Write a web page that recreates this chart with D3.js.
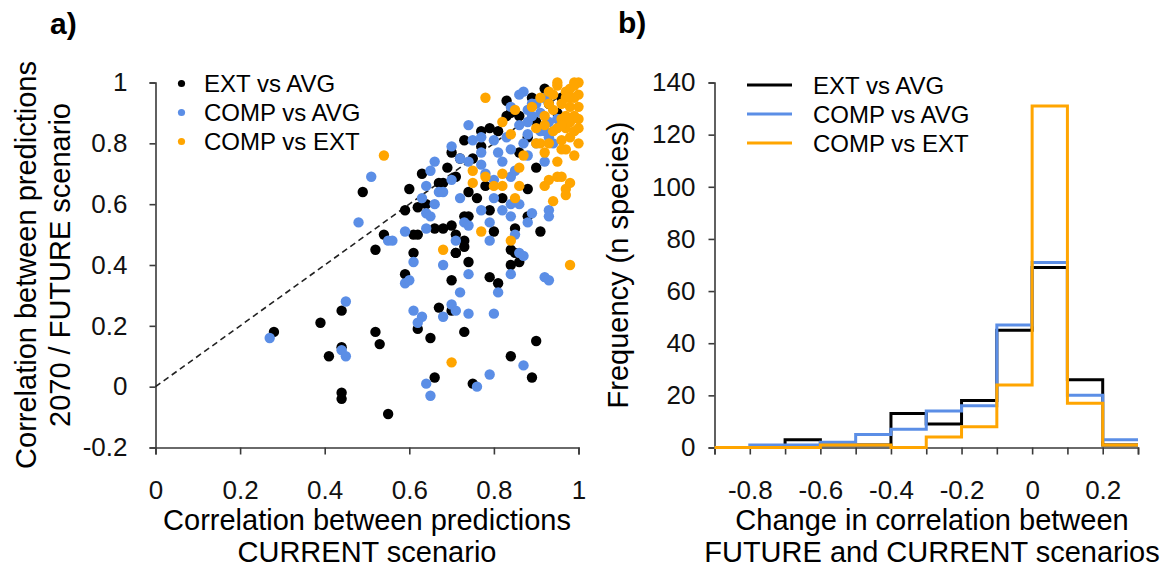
<!DOCTYPE html>
<html>
<head>
<meta charset="utf-8">
<script src="https://cdn.jsdelivr.net/npm/d3@7"></script>
<style>
  body { margin: 0; background: #fff; }
  svg { display: block; font-family: "Liberation Sans", Arial, sans-serif; }
</style>
</head>
<body>
<div id="chart"></div>
<script>
// ---- data: panel a) scatter, [current corr, future corr]
const extAvg = [
  [0.28,0.18],[0.39,0.21],[0.44,0.25],[0.44,0.13],[0.41,0.10],[0.44,-0.02],[0.44,-0.04],
  [0.52,0.18],[0.53,0.14],[0.55,-0.09],[0.52,0.45],[0.59,0.37],[0.61,0.44],[0.62,0.19],
  [0.65,0.16],[0.66,0.03],[0.67,0.26],[0.70,0.25],[0.70,0.35],[0.73,0.18],[0.71,0.44],
  [0.74,0.41],[0.75,0.01],[0.79,0.36],[0.81,0.34],[0.84,0.40],[0.86,0.41],[0.84,0.45],
  [0.84,0.10],[0.89,0.03],[0.90,0.15],[0.54,0.50],[0.59,0.58],[0.62,0.59],[0.61,0.50],
  [0.62,0.50],[0.64,0.60],[0.66,0.52],[0.68,0.52],[0.76,0.62],[0.82,0.62],[0.79,0.58],
  [0.73,0.56],[0.74,0.56],[0.70,0.53],[0.88,0.56],[0.85,0.52],[0.91,0.51],[0.80,0.51],
  [0.71,0.50],[0.73,0.48],[0.73,0.46],[0.85,0.44],[0.71,0.44],[0.49,0.64],[0.63,0.70],
  [0.60,0.65],[0.67,0.67],[0.83,0.94],[0.92,0.98],[0.84,0.90],[0.83,0.89],[0.86,0.89],
  [0.81,0.84],[0.79,0.85],[0.77,0.84],[0.73,0.81],[0.77,0.79],[0.70,0.77],[0.69,0.72],
  [0.75,0.75],[0.90,0.72],[0.71,0.69],[0.78,0.66],[0.74,0.64],[0.68,0.67],[0.88,0.65],
  [0.72,0.75],[0.88,0.82],[0.90,0.87],[0.95,0.90],[0.86,0.77],[0.89,0.95],[0.93,0.93],
  [0.96,0.95]
];
const compAvg = [
  [0.27,0.16],[0.45,0.28],[0.44,0.12],[0.45,0.10],[0.59,0.34],[0.60,0.35],[0.61,0.41],
  [0.61,0.25],[0.63,0.23],[0.62,0.21],[0.64,0.01],[0.65,-0.03],[0.68,0.40],[0.68,0.23],
  [0.70,0.27],[0.71,0.25],[0.72,0.31],[0.74,0.37],[0.74,0.24],[0.76,0.00],[0.79,0.04],
  [0.81,0.31],[0.80,0.24],[0.84,0.37],[0.86,0.44],[0.87,0.07],[0.92,0.36],[0.93,0.35],
  [0.48,0.54],[0.55,0.48],[0.56,0.48],[0.59,0.51],[0.63,0.62],[0.64,0.57],[0.65,0.56],
  [0.64,0.52],[0.66,0.60],[0.80,0.62],[0.82,0.58],[0.84,0.60],[0.86,0.60],[0.77,0.58],
  [0.89,0.57],[0.93,0.58],[0.93,0.56],[0.73,0.54],[0.74,0.53],[0.79,0.54],[0.84,0.56],
  [0.88,0.54],[0.85,0.50],[0.79,0.48],[0.71,0.48],[0.87,0.43],[0.51,0.69],[0.66,0.74],
  [0.65,0.71],[0.64,0.66],[0.67,0.64],[0.86,0.96],[0.87,0.97],[0.84,0.92],[0.88,0.91],
  [0.91,0.90],[0.86,0.86],[0.88,0.87],[0.74,0.86],[0.88,0.83],[0.92,0.84],[0.83,0.82],
  [0.80,0.81],[0.87,0.80],[0.70,0.79],[0.75,0.81],[0.77,0.82],[0.77,0.77],[0.81,0.77],
  [0.84,0.78],[0.88,0.76],[0.92,0.74],[0.72,0.75],[0.74,0.74],[0.77,0.73],[0.82,0.74],
  [0.70,0.68],[0.84,0.69],[0.80,0.68],[0.68,0.64],[0.89,0.93],[0.90,0.80],[0.95,0.88],
  [0.93,0.82],[0.85,0.71],[0.78,0.70],[0.72,0.62],[0.90,0.93],[0.92,0.95],[0.89,0.89],
  [0.93,0.87],[0.91,0.84],[0.94,0.80]
];
const compExt = [
  [0.68,0.45],[0.70,0.08],[0.98,0.40],[0.85,0.62],[0.94,0.61],[0.97,0.63],[0.77,0.51],
  [0.84,0.48],[0.54,0.76],[0.78,0.95],[0.91,0.95],[0.95,1.00],[0.99,1.00],[1.00,1.00],
  [0.85,0.91],[0.89,0.92],[0.92,0.89],[0.82,0.87],[0.84,0.83],[0.90,0.85],[0.90,0.80],
  [0.91,0.80],[0.93,0.80],[0.96,0.81],[0.97,0.78],[0.87,0.76],[0.92,0.77],[0.86,0.72],
  [0.75,0.71],[0.78,0.69],[0.82,0.70],[0.75,0.67],[0.80,0.66],[0.82,0.66],[0.86,0.66],
  [0.92,0.66],[0.93,0.68],[0.95,0.69],[0.96,0.69],[0.97,0.65],[0.98,0.67],[0.95,0.74],
  [0.95,0.99],[0.97,0.97],[0.98,0.98],[0.99,0.99],[0.98,0.95],[0.97,0.95],[0.99,0.95],
  [1.00,0.96],[0.96,0.93],[0.98,0.92],[1.00,0.92],[0.94,0.91],[0.97,0.89],[0.99,0.89],
  [0.96,0.88],[0.98,0.87],[1.00,0.88],[0.97,0.85],[0.99,0.84],[0.95,0.85],[0.98,0.82],
  [1.00,0.80],[0.96,0.78],[0.99,0.76],[1.00,0.85],[0.94,0.96],[0.93,0.93],[0.93,0.97],
  [0.92,0.86],[0.94,0.84],[0.96,0.86]
];

// ---- data: panel b) histogram, bins of 0.1 from -0.9 to 0.3
const binStart = -0.9, binWidth = 0.1;
const histExtAvg  = [0, 0, 3, 1, 1, 13, 9, 18, 45, 69, 26, 1];
const histCompAvg = [0, 1, 1, 2, 5, 7, 14, 16, 47, 71, 20, 3];
const histCompExt = [0, 0, 0, 1, 1, 0, 4, 8, 24, 131, 17, 1];

const seriesNames = ["EXT vs AVG", "COMP vs AVG", "COMP vs EXT"];
const colors = ["#000000", "#5b8ee6", "#ffa500"];

const scatterXTicks = [0, 0.2, 0.4, 0.6, 0.8, 1];
const scatterYTicks = [-0.2, 0, 0.2, 0.4, 0.6, 0.8, 1];
const histXTicks = d3.range(13).map(i => +(binStart + i * binWidth).toFixed(1));
const histXLabels = [-0.8, -0.6, -0.4, -0.2, 0, 0.2];
const histYTicks = [0, 20, 40, 60, 80, 100, 120, 140];

const W = 1169, H = 581;
const axisColor = "#3a3a3a";
const fmt = d => String(+(+d).toFixed(1));

const svg = d3.select("#chart").append("svg")
    .attr("width", W)
    .attr("height", H);

function styleAxis(g, size) {
    g.attr("font-family", null).attr("font-size", null);
    g.selectAll(".domain").attr("stroke", axisColor).attr("stroke-width", 1.6);
    g.selectAll(".tick line").attr("stroke", axisColor).attr("stroke-width", 1.6);
    g.selectAll(".tick text").attr("fill", "#111").style("font-size", size + "px");
}

// ================= panel a) =================
let xA = d3.scaleLinear().domain([0, 1]).range([155.5, 578.5]);
let yA = d3.scaleLinear().domain([-0.2, 1]).range([447.5, 82.5]);

svg.append("g")
    .attr("transform", "translate(" + xA(0) + ",0)")
    .call(d3.axisLeft(yA).tickValues(scatterYTicks).tickFormat(fmt).tickSizeOuter(0).tickSize(6).tickPadding(22))
    .call(g => styleAxis(g, 26));

svg.append("g")
    .attr("transform", "translate(0," + yA(-0.2) + ")")
    .call(d3.axisBottom(xA).tickValues(scatterXTicks).tickFormat(fmt).tickSizeOuter(0).tickSize(7).tickPadding(26))
    .call(g => styleAxis(g, 26));

// 1:1 line
svg.append("line")
    .attr("x1", xA(0)).attr("y1", yA(0))
    .attr("x2", xA(1)).attr("y2", yA(1))
    .attr("stroke", "#222")
    .attr("stroke-width", 1.6)
    .attr("stroke-dasharray", "6,4");

[extAvg, compAvg, compExt].forEach((pts, i) => {
    svg.append("g")
        .selectAll("circle")
        .data(pts)
        .join("circle")
        .attr("cx", d => xA(d[0]))
        .attr("cy", d => yA(d[1]))
        .attr("r", 5.2)
        .attr("fill", colors[i]);
});

// legend a)
let legA = svg.append("g");
seriesNames.forEach((name, i) => {
    legA.append("circle")
        .attr("cx", 181.5).attr("cy", 83.5 + i * 29)
        .attr("r", 3.6).attr("fill", colors[i]);
    legA.append("text")
        .attr("x", 204).attr("y", 83.5 + i * 29)
        .attr("dy", "0.36em")
        .style("font-size", "24px")
        .text(name);
});

// titles a)
svg.append("text")
    .attr("x", 50).attr("y", 34)
    .style("font-size", "30px").style("font-weight", "bold")
    .text("a)");

let xTitleA = svg.append("text")
    .attr("text-anchor", "middle")
    .style("font-size", "29px");
xTitleA.append("tspan").attr("x", (xA(0) + xA(1)) / 2).attr("y", 530).text("Correlation between predictions");
xTitleA.append("tspan").attr("x", (xA(0) + xA(1)) / 2).attr("y", 562).text("CURRENT scenario");

let yTitleA = svg.append("text")
    .attr("text-anchor", "middle")
    .attr("transform", "translate(0," + (yA(-0.2) + yA(1)) / 2 + ") rotate(-90)")
    .style("font-size", "29px");
yTitleA.append("tspan").attr("x", 0).attr("y", 36).text("Correlation between predictions");
yTitleA.append("tspan").attr("x", 0).attr("y", 70).text("2070 / FUTURE scenario");

// ================= panel b) =================
let xB = d3.scaleLinear().domain([-0.9, 0.3]).range([714.5, 1138]);
let yB = d3.scaleLinear().domain([0, 140]).range([447.5, 82.5]);

svg.append("g")
    .attr("transform", "translate(" + xB(-0.9) + ",0)")
    .call(d3.axisLeft(yB).tickValues(histYTicks).tickSizeOuter(0).tickSize(6).tickPadding(13))
    .call(g => styleAxis(g, 26));

svg.append("g")
    .attr("transform", "translate(0," + yB(0) + ")")
    .call(d3.axisBottom(xB).tickValues(histXTicks)
        .tickFormat(d => histXLabels.includes(d) ? fmt(d) : "")
        .tickSizeOuter(0).tickSize(7).tickPadding(26))
    .call(g => styleAxis(g, 26));

let stepLine = d3.line()
    .x(d => xB(d[0]))
    .y(d => yB(d[1]));

[histExtAvg, histCompAvg, histCompExt].forEach((counts, i) => {
    let pts = [];
    counts.forEach((c, j) => {
        pts.push([binStart + j * binWidth, c]);
        pts.push([binStart + (j + 1) * binWidth, c]);
    });
    svg.append("path")
        .attr("d", stepLine(pts))
        .attr("fill", "none")
        .attr("stroke", colors[i])
        .attr("stroke-width", 3)
        .attr("stroke-linejoin", "miter");
});

// legend b)
let legB = svg.append("g");
seriesNames.forEach((name, i) => {
    legB.append("line")
        .attr("x1", 747).attr("x2", 792)
        .attr("y1", 85 + i * 29).attr("y2", 85 + i * 29)
        .attr("stroke", colors[i]).attr("stroke-width", 3);
    legB.append("text")
        .attr("x", 813).attr("y", 85 + i * 29)
        .attr("dy", "0.36em")
        .style("font-size", "24px")
        .text(name);
});

svg.append("text")
    .attr("x", 618).attr("y", 33)
    .style("font-size", "30px").style("font-weight", "bold")
    .text("b)");

let xTitleB = svg.append("text")
    .attr("text-anchor", "middle")
    .style("font-size", "29px");
xTitleB.append("tspan").attr("x", 932).attr("y", 530).text("Change in correlation between");
xTitleB.append("tspan").attr("x", 932).attr("y", 562).text("FUTURE and CURRENT scenarios");

svg.append("text")
    .attr("text-anchor", "middle")
    .attr("transform", "translate(628," + (yB(0) + yB(140)) / 2 + ") rotate(-90)")
    .style("font-size", "29px")
    .text("Frequency (n species)");
</script>
</body>
</html>
